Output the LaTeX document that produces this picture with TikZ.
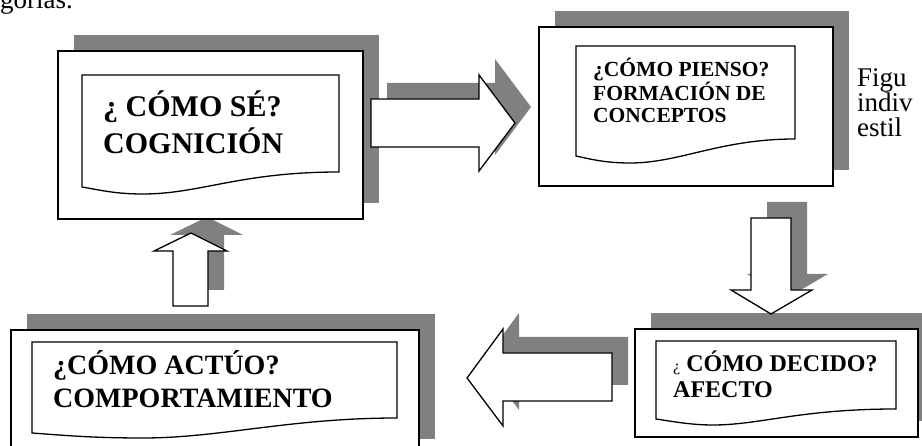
\documentclass[tikz,border=0pt]{standalone}
\usepackage{fontspec}
\setmainfont{Liberation Serif}
\usepackage{tikz}

\begin{document}
\begin{tikzpicture}[x=1pt, y=-1pt, line join=miter,
shadowed/.style={preaction={fill=gray, draw=none, transform canvas={shift={(16pt,16pt)}}}},
outerbox/.style={shadowed, draw, line width=2pt, fill=white},
docpaper/.style={draw, line width=1.3pt, fill=white},
blockarrow/.style={shadowed, draw, line width=1.3pt, fill=white},
boxtext/.style={anchor=base west, align=left, inner sep=0pt}]
\useasboundingbox (0,0) rectangle (922,446);

\node [boxtext, font=\fontsize{27}{27}\selectfont] (categorias) at (0,9) {gorías.};

% flecha hacia arriba
\draw [blockarrow] (173,306) -- (173,251) -- (154,251) -- (191,233) -- (227,251) -- (208,251) -- (208,306) -- cycle;

\draw [outerbox] (58,51) rectangle (363,219);
\draw [docpaper] (82,75) -- (339,75) -- (339,172) .. controls (240,172) and (200,194) .. (143,194)
  .. controls (115,194) and (100,190) .. (82,187) -- cycle;
\node [boxtext, font=\bfseries\fontsize{30}{37}\selectfont] (sabe) at (103,154) {¿ CÓMO SÉ?\\COGNICIÓN};

% flecha hacia la derecha
\draw [blockarrow] (371,99) -- (479,99) -- (479,75) -- (515,123) -- (479,171) -- (479,147) -- (371,147) -- cycle;

\draw [outerbox] (539,27) rectangle (833,186);
\draw [docpaper] (576,46) -- (795,46) -- (795,139) .. controls (720,139) and (680,163) .. (630,163)
  .. controls (605,163) and (590,159) .. (576,156) -- cycle;
\node [boxtext, font=\bfseries\fontsize{21.5}{22.5}\selectfont] (piensa) at (593,123) {¿CÓMO PIENSO?\\FORMACIÓN DE\\CONCEPTOS};

\node [boxtext, font=\fontsize{27}{25}\selectfont] (figura) at (857,137) {Figu\\indiv\\estil};

\draw [outerbox] (635,329) rectangle (918,437);
\draw [docpaper] (656,341) -- (896,341) -- (896,409) .. controls (800,409) and (760,425) .. (713,425)
  .. controls (690,425) and (670,421) .. (656,419) -- cycle;
\node [boxtext, font=\bfseries\fontsize{24}{26}\selectfont] (decide) at (673,398) {{\normalfont\fontsize{16}{16}\selectfont ¿} CÓMO DECIDO?\\AFECTO};

% flecha hacia abajo
\draw [blockarrow] (751,218) -- (791,218) -- (791,290) -- (812,290) -- (771,314) -- (731,290) -- (751,290) -- cycle;

% flecha hacia la izquierda
\draw [blockarrow] (612,353) -- (503,353) -- (503,329) -- (467,378) -- (503,426) -- (503,401) -- (612,401) -- cycle;

\draw [outerbox] (11,330) rectangle (419,455);
\draw [docpaper] (32,342) -- (397,342) -- (397,418) .. controls (290,418) and (220,438) .. (143,438)
  .. controls (90,438) and (60,435) .. (32,433) -- cycle;
\node [boxtext, font=\bfseries\fontsize{28}{33}\selectfont] (actua) at (53,408) {¿CÓMO ACTÚO?\\COMPORTAMIENTO};

\end{tikzpicture}
\end{document}
